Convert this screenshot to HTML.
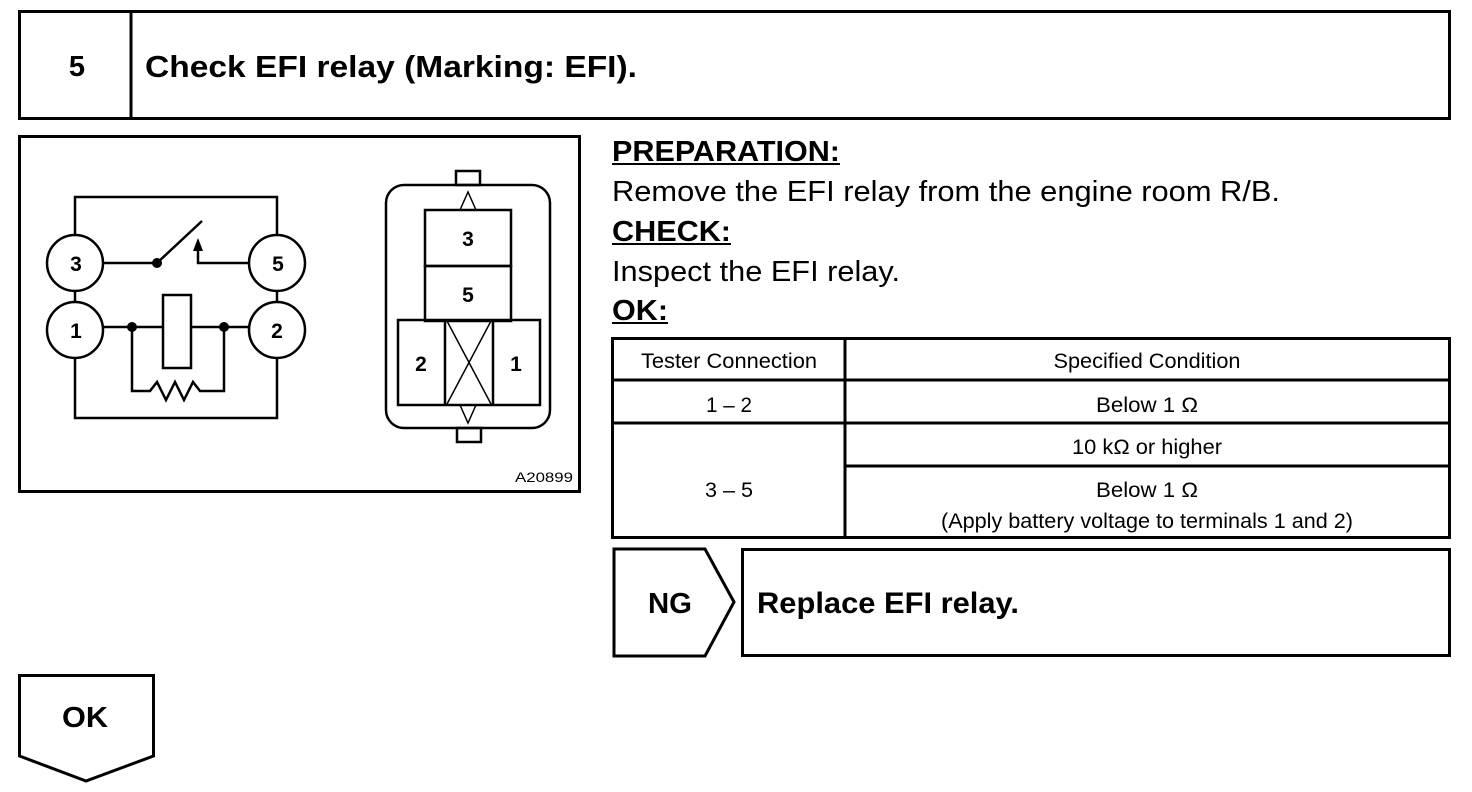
<!DOCTYPE html>
<html><head><meta charset="utf-8"><style>
html,body{margin:0;padding:0;background:#fff;}
svg{display:block;font-family:"Liberation Sans",Arial,sans-serif;}
</style></head><body>
<svg width="1472" height="792" viewBox="0 0 1472 792" xmlns="http://www.w3.org/2000/svg">
<g fill="none" stroke="#000" stroke-width="3">
<rect x="19.5" y="11.5" width="1430" height="107"/>
<line x1="131" y1="11" x2="131" y2="119"/>
<rect x="19.5" y="136.5" width="560" height="355"/>
</g>
<text x="77" y="76" font-size="29" font-weight="bold" text-anchor="middle">5</text>
<text x="145" y="77" font-size="31" font-weight="bold" textLength="492" lengthAdjust="spacingAndGlyphs">Check EFI relay (Marking: EFI).</text>

<!-- schematic -->
<g fill="none" stroke="#000" stroke-width="2.5">
<polyline points="75,235 75,197 277,197 277,235"/>
<polyline points="75,358 75,418 277,418 277,358"/>
<line x1="75" y1="291" x2="75" y2="302"/>
<line x1="277" y1="291" x2="277" y2="302"/>
<circle cx="75" cy="263" r="28"/>
<circle cx="277" cy="263" r="28"/>
<circle cx="75" cy="330" r="28"/>
<circle cx="277" cy="330" r="28"/>
<line x1="103" y1="263" x2="157" y2="263"/>
<line x1="157" y1="263" x2="202" y2="221"/>
<polyline points="249,263 198,263 198,250"/>
<line x1="103" y1="327" x2="163" y2="327"/>
<line x1="191" y1="327" x2="249" y2="327"/>
<rect x="163" y="295" width="28" height="73"/>
<polyline points="132,327 132,391 150,391 157,382 166,400 175,382 184,400 193,382 200,391 224,391 224,327"/>
</g>
<polygon points="198,238 193,251 203,251" fill="#000"/>
<circle cx="157" cy="263" r="5" fill="#000"/>
<circle cx="132" cy="327" r="5" fill="#000"/>
<circle cx="224" cy="327" r="5" fill="#000"/>
<g font-size="21" font-weight="bold" text-anchor="middle">
<text x="76" y="271">3</text><text x="278" y="271">5</text>
<text x="76" y="338">1</text><text x="277" y="338">2</text>
</g>

<!-- connector -->
<g fill="none" stroke="#000" stroke-width="2.5">
<rect x="456" y="171" width="24" height="14"/>
<rect x="457" y="428" width="24" height="14"/>
<rect x="386" y="185" width="164" height="243" rx="18"/>
<rect x="425" y="210" width="86" height="56"/>
<rect x="425" y="266" width="86" height="55"/>
<rect x="398" y="320" width="142" height="85"/>
<line x1="445" y1="320" x2="445" y2="405"/>
<line x1="493" y1="320" x2="493" y2="405"/>
<line x1="447" y1="321" x2="491" y2="404" stroke-width="1.5"/>
<line x1="491" y1="321" x2="447" y2="404" stroke-width="1.5"/>
<polyline points="460,210 468,192 476,210" stroke-width="1.5"/>
<polyline points="460,405 468,423 476,405" stroke-width="1.5"/>
</g>
<g font-size="21" font-weight="bold" text-anchor="middle">
<text x="468" y="246">3</text><text x="468" y="302">5</text>
<text x="421" y="371">2</text><text x="516" y="371">1</text>
</g>
<text x="573" y="482" font-size="14" text-anchor="end" textLength="58" lengthAdjust="spacingAndGlyphs">A20899</text>

<!-- right text -->
<g font-size="29">
<text x="612" y="161" font-weight="bold" textLength="228" lengthAdjust="spacingAndGlyphs">PREPARATION:</text>
<text x="612" y="201" textLength="668" lengthAdjust="spacingAndGlyphs">Remove the EFI relay from the engine room R/B.</text>
<text x="612" y="241" font-weight="bold" textLength="119" lengthAdjust="spacingAndGlyphs">CHECK:</text>
<text x="612" y="281" textLength="288" lengthAdjust="spacingAndGlyphs">Inspect the EFI relay.</text>
<text x="612" y="320" font-weight="bold" textLength="56" lengthAdjust="spacingAndGlyphs">OK:</text>
</g>
<g stroke="#000" stroke-width="2">
<line x1="612" y1="164" x2="840" y2="164"/>
<line x1="612" y1="244" x2="731" y2="244"/>
<line x1="612" y1="323" x2="668" y2="323"/>
</g>

<!-- table -->
<g fill="none" stroke="#000" stroke-width="3">
<rect x="612.5" y="338.5" width="837" height="199"/>
<line x1="845" y1="338" x2="845" y2="538"/>
<line x1="612" y1="380" x2="1450" y2="380"/>
<line x1="612" y1="423" x2="1450" y2="423"/>
<line x1="845" y1="466" x2="1450" y2="466"/>
</g>
<g font-size="21" text-anchor="middle">
<text x="729" y="368" textLength="176" lengthAdjust="spacingAndGlyphs">Tester Connection</text>
<text x="1147" y="368" textLength="187" lengthAdjust="spacingAndGlyphs">Specified Condition</text>
<text x="729" y="412" textLength="46" lengthAdjust="spacingAndGlyphs">1 – 2</text>
<text x="1147" y="412" textLength="102" lengthAdjust="spacingAndGlyphs">Below 1 Ω</text>
<text x="1147" y="454" textLength="150" lengthAdjust="spacingAndGlyphs">10 kΩ or higher</text>
<text x="729" y="497" textLength="48" lengthAdjust="spacingAndGlyphs">3 – 5</text>
<text x="1147" y="497" textLength="102" lengthAdjust="spacingAndGlyphs">Below 1 Ω</text>
<text x="1147" y="528" textLength="412" lengthAdjust="spacingAndGlyphs">(Apply battery voltage to terminals 1 and 2)</text>
</g>

<!-- NG / OK -->
<g fill="none" stroke="#000" stroke-width="3">
<polygon points="614,549 705,549 734,602 705,656 614,656"/>
<rect x="742.5" y="549.5" width="707" height="106"/>
<polygon points="19.5,675.5 153.5,675.5 153.5,756 86,781 19.5,756"/>
</g>
<text x="670" y="613" font-size="29" font-weight="bold" text-anchor="middle" textLength="44" lengthAdjust="spacingAndGlyphs">NG</text>
<text x="757" y="613" font-size="30" font-weight="bold" textLength="262" lengthAdjust="spacingAndGlyphs">Replace EFI relay.</text>
<text x="85" y="727" font-size="29" font-weight="bold" text-anchor="middle" textLength="46" lengthAdjust="spacingAndGlyphs">OK</text>
</svg>
</body></html>
